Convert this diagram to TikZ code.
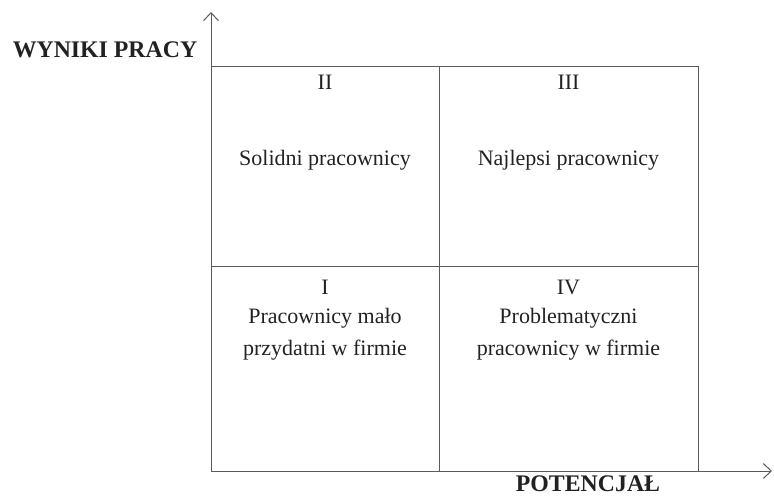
\documentclass[tikz,border=0pt]{standalone}
\usepackage{fontspec}
\setmainfont{Liberation Serif}
\usepackage{xcolor,tikz}
\usetikzlibrary{arrows.meta,positioning,calc}
\definecolor{linegray}{HTML}{5A5A5A}
\definecolor{textdark}{HTML}{222222}
\tikzset{
 cell/.style={draw=linegray,line width=1pt,inner sep=0pt,outer sep=0pt},
 label/.style={text=textdark,font=\fontsize{22}{32}\selectfont,align=center,inner sep=0pt},
 axislabel/.style={text=textdark,font=\fontsize{23.8}{28}\selectfont\bfseries,inner sep=0pt},
 axis/.style={draw=linegray,line width=1pt,-{Straight Barb[length=8pt,width=15pt]}}
}
\begin{document}
\begin{tikzpicture}[x=1pt,y=1pt]
 \useasboundingbox (0,0) rectangle (774,496);
 % quadrants
 \node[cell,minimum width=228pt,minimum height=200pt] (q2) at (325,329) {};
 \node[cell,minimum width=259pt,minimum height=200pt] (q3) at (568.5,329) {};
 \node[cell,minimum width=228pt,minimum height=204pt] (q1) at (325,127) {};
 \node[cell,minimum width=259pt,minimum height=204pt] (q4) at (568.5,127) {};
 % axes
 \coordinate (ytip) at (211,484);
 \coordinate (xtip) at (772,25);
 \draw[axis] (q1.south west) -- (ytip);
 \draw[axis] (q4.south east) -- (xtip);
 \node[axislabel] (ylab) at (105,446) {WYNIKI PRACY};
 \node[axislabel] (xlab) at (588,12) {POTENCJAŁ};
 % texts
 \node[label] (n2) at (325,414) {II};
 \node[label] (t2) at (325,336) {Solidni pracownicy};
 \node[label] (n3) at (568.5,414) {III};
 \node[label] (t3) at (568.5,336) {Najlepsi pracownicy};
 \node[label] (n1) at (325,209) {I};
 \node[label] (t1) at (325,162) {Pracownicy mało\\przydatni w firmie};
 \node[label] (n4) at (568.5,209) {IV};
 \node[label] (t4) at (568.5,162) {Problematyczni\\pracownicy w firmie};
\end{tikzpicture}
\end{document}
